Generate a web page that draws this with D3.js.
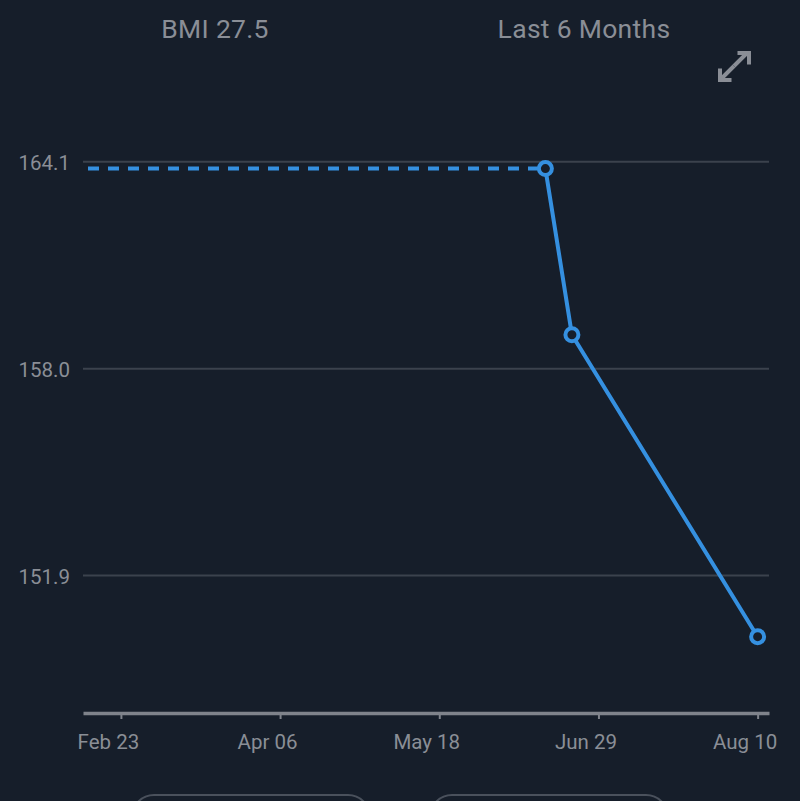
<!DOCTYPE html>
<html>
<head>
<meta charset="utf-8">
<script src="https://cdn.jsdelivr.net/npm/d3@7"></script>
<style>
html,body{margin:0;padding:0;background:#161e2a;}
svg{display:block;}
</style>
</head>
<body>
<svg id="chart" width="800" height="801"></svg>
<script>
// ---- data ----
const headerLabels = ["BMI 27.5", "Last 6 Months"];
const dates = ["2025-06-15", "2025-06-22", "2025-08-10"];
const weights = [163.9, 159.0, 150.1];
const yTicks = [151.9, 158.0, 164.1];
const xTickDates = ["2025-02-23", "2025-04-06", "2025-05-18", "2025-06-29", "2025-08-10"];
const xDomain = ["2025-02-13", "2025-08-13"];
const yDomain = [147.85, 164.3];

const parse = d3.timeParse("%Y-%m-%d");
const svg = d3.select("#chart");
const W = 800, H = 801;
const bg = "#161e2a", grey = "#8a8e96", blue = "#3590e0";

svg.append("rect").attr("width", W).attr("height", H).attr("fill", bg);

// header
svg.selectAll("text.hdr").data(headerLabels).join("text")
  .attr("class", "hdr")
  .attr("x", (d, i) => i === 0 ? 215 : 584)
  .attr("y", 38)
  .attr("text-anchor", "middle")
  .attr("font-family", "Roboto, 'Noto Sans', sans-serif")
  .attr("font-size", 26.5)
  .attr("letter-spacing", 0.3)
  .attr("fill", grey)
  .text(d => d);

// expand icon
const icon = svg.append("g").attr("stroke", grey).attr("stroke-width", 4).attr("fill", "none")
  .attr("stroke-linecap", "butt").attr("stroke-linejoin", "miter");
icon.append("path").attr("d", "M734,66 L747,53 M737.5,53 L749,53 L749,64.5");
icon.append("path").attr("d", "M734,66 L722,78 M720,68.5 L720,80 L731.5,80");

// scales
const x = d3.scaleTime().domain(xDomain.map(parse)).range([83, 769]);
const y = d3.scaleLinear().domain(yDomain).range([713, 155]);

// grid
svg.append("g").selectAll("line").data(yTicks).join("line")
  .attr("x1", 83).attr("x2", 769)
  .attr("y1", d => y(d)).attr("y2", d => y(d))
  .attr("stroke", "#3b424d").attr("stroke-width", 2);

// y labels
svg.append("g").selectAll("text").data(yTicks).join("text")
  .attr("x", 70).attr("y", d => y(d) + 8)
  .attr("text-anchor", "end")
  .attr("font-family", "Roboto, sans-serif")
  .attr("font-size", 20.5)
  .attr("fill", grey)
  .text(d => d.toFixed(1));

// x axis
const xAxis = d3.axisBottom(x)
  .tickValues(xTickDates.map(parse))
  .tickFormat(d3.timeFormat("%b %d"))
  .tickSize(6).tickSizeOuter(0).tickPadding(12);
const gx = svg.append("g").attr("transform", "translate(0,713)").call(xAxis);
gx.select(".domain").attr("stroke", "#7f838b").attr("stroke-width", 3.5);
gx.selectAll(".tick line").attr("stroke", "#7f838b").attr("stroke-width", 2);
gx.selectAll(".tick text").attr("fill", grey).attr("font-size", 20.5)
  .attr("font-family", "Roboto, sans-serif").attr("dy", "0.9em").attr("dx", -13);

// series
const pts = dates.map((d, i) => ({ date: parse(d), v: weights[i] }));
const line = d3.line().x(d => x(d.date)).y(d => y(d.v));

// dashed carry-back line
svg.append("line")
  .attr("x1", x(parse(xDomain[0])) + 5).attr("x2", x(pts[0].date))
  .attr("y1", y(pts[0].v)).attr("y2", y(pts[0].v))
  .attr("stroke", blue).attr("stroke-width", 4)
  .attr("stroke-dasharray", "11,9");

svg.append("path").datum(pts)
  .attr("d", line).attr("fill", "none")
  .attr("stroke", blue).attr("stroke-width", 4);

svg.append("g").selectAll("circle").data(pts).join("circle")
  .attr("cx", d => x(d.date)).attr("cy", d => y(d.v))
  .attr("r", 6.5).attr("fill", bg)
  .attr("stroke", blue).attr("stroke-width", 4);

// bottom buttons (partially visible)
svg.append("g").selectAll("rect").data([0, 1]).join("rect")
  .attr("x", d => d === 0 ? 132 : 430).attr("y", 795)
  .attr("width", 238).attr("height", 60).attr("rx", 22)
  .attr("fill", "none").attr("stroke", "#4a515c").attr("stroke-width", 2);
</script>
</body>
</html>
